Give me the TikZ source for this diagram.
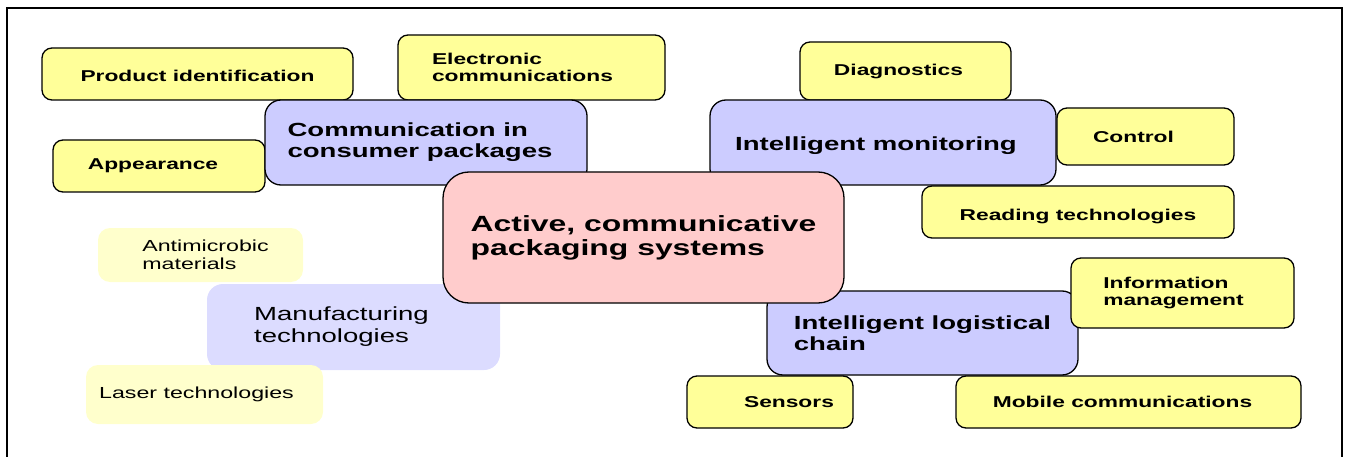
\documentclass[tikz,border=0pt]{standalone}
\usepackage{fontspec}
\setmainfont{Liberation Sans}[FakeStretch=1.45]

\definecolor{leafyellow}{HTML}{FFFF99}
\definecolor{branchblue}{HTML}{CCCCFF}
\definecolor{rootpink}{HTML}{FFCCCC}
\definecolor{paleyellow}{HTML}{FFFFCC}
\definecolor{paleblue}{HTML}{DCDCFF}

\begin{document}
\begin{tikzpicture}[x=1pt, y=-1pt,
    every node/.style={inner sep=0pt, align=left},
    leaf/.style={draw, line width=1.3pt, fill=leafyellow, rounded corners=10pt,
      font=\bfseries\fontsize{15.7}{17}\selectfont},
    branch/.style={draw, line width=1.3pt, fill=branchblue, rounded corners=16pt,
      font=\bfseries\fontsize{19}{21}\selectfont},
    root/.style={draw, line width=1.3pt, fill=rootpink, rounded corners=26pt,
      font=\bfseries\fontsize{22}{24}\selectfont},
    faded/.style={fill=paleyellow, rounded corners=12pt,
      font=\fontsize{16}{18}\selectfont},
    fadedbranch/.style={fill=paleblue, rounded corners=16pt,
      font=\fontsize{19}{22}\selectfont},
    lowtext/.style={text height=#1, text depth=0pt}]
    \useasboundingbox (0,0) rectangle (1346,457);
    \draw[line width=2pt] (7,457) -- (7,8) -- (1342,8) -- (1342,457);

    % left group
    \node[leaf, lowtext=16pt, minimum width=311, minimum height=52] (prodid) at (197.5,74) {Product identification};
    \node[leaf, minimum width=267, minimum height=65] (elcomm) at (531.5,67.5) {Electronic\\communications\hspace*{18pt}};
    \node[leaf, minimum width=212, minimum height=52] (appear) at (159,166) {Appearance\hspace*{12pt}};
    \node[branch, minimum width=322, minimum height=85] (commpack) at (426,142.5) {Communication in\\consumer packages\hspace*{12pt}};

    % top right group
    \node[leaf, minimum width=211, minimum height=58] (diagn) at (905.5,71) {Diagnostics\hspace*{14pt}};
    \node[leaf, minimum width=177, minimum height=57] (control) at (1145.5,136.5) {Control\hspace*{24pt}};
    \node[leaf, lowtext=16pt, minimum width=312, minimum height=52] (reading) at (1078,212) {Reading technologies};
    \node[branch, lowtext=17pt, minimum width=346, minimum height=85] (monitor) at (883,142.5) {Intelligent monitoring\hspace*{14pt}};

    % faded group
    \node[faded, minimum width=205, minimum height=54] (antimic) at (200.5,255) {\hspace*{10pt}Antimicrobic\\\hspace*{10pt}materials};
    \node[fadedbranch, minimum width=293, minimum height=86] (manuf) at (353.5,327) {Manufacturing\hspace*{24pt}\\technologies};
    \node[faded, minimum width=237, minimum height=59] (laser) at (204.5,394.5) {Laser technologies\hspace*{16pt}};

    % bottom right group
    \node[branch, minimum width=311, minimum height=84] (logist) at (922.5,333) {Intelligent logistical\\chain};
    \node[leaf, minimum width=223, minimum height=70] (infoman) at (1182.5,293) {Information\\management\hspace*{18pt}};
    \node[leaf, minimum width=166, minimum height=52] (sensors) at (770,402) {\hspace*{38pt}Sensors};
    \node[leaf, minimum width=345, minimum height=52] (mobile) at (1128.5,402) {Mobile communications\hspace*{12pt}};

    \node[root, minimum width=401, minimum height=131] (active) at (643.5,237.5) {Active, communicative\\packaging systems};
\end{tikzpicture}
\end{document}
